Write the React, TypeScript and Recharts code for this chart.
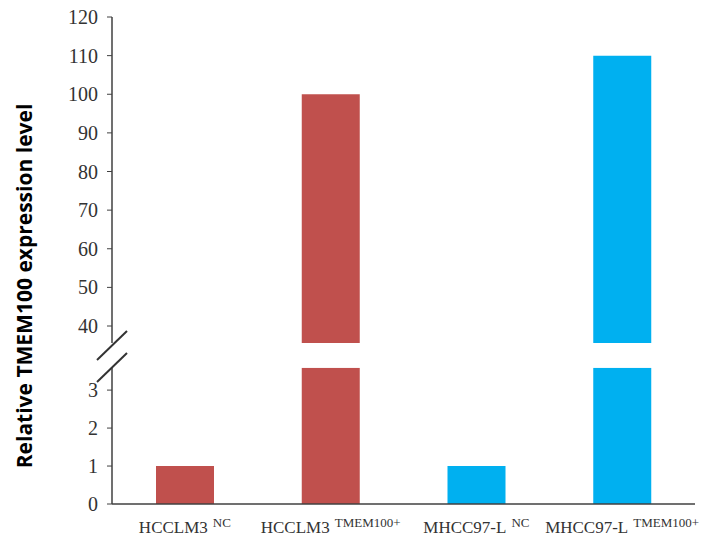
import { Bar, BarChart, Cell, XAxis, YAxis } from "recharts";

const cellLines = ["HCCLM3", "HCCLM3", "MHCC97-L", "MHCC97-L"];
const groupTags = ["NC", "TMEM100+", "NC", "TMEM100+"];
const expression = [1, 100, 1, 110];
const barColors = ["#c0504d", "#c0504d", "#00b0f0", "#00b0f0"];

const upperTicks = [40, 50, 60, 70, 80, 90, 100, 110, 120];
const lowerTicks = [0, 1, 2, 3];
const upperDomain: [number, number] = [35.6, 120];
const lowerDomain: [number, number] = [0, 3.59];
const groupEdges = [1, 2, 3, 4];

const rows = cellLines.map((line, i) => ({
  name: `${line}|${groupTags[i]}`,
  lower: Math.min(expression[i], lowerDomain[1]),
  upper: expression[i] > upperDomain[0] ? expression[i] : null,
}));

const AXIS = "#404040";
const serif = "'Liberation Serif', 'Times New Roman', serif";

function CategoryTick({ x, y, payload }: any) {
  const [line, tag] = String(payload.value).split("|");
  return (
    <text x={x} y={y + 29} textAnchor="middle" fontFamily={serif} fontSize={17} fill="#333">
      {line}
      <tspan dx={5} dy={-6} fontSize={13}>
        {tag}
      </tspan>
    </text>
  );
}

function ValueTick({ x, y, payload }: any) {
  return (
    <text x={x} y={y} dy={7} textAnchor="end" fontFamily={serif} fontSize={20} fill="#333">
      {payload.value}
    </text>
  );
}

export default function App() {
  return (
    <div style={{ position: "absolute", left: 0, top: 0, width: 716, height: 540, background: "#fff" }}>
      <div style={{ position: "absolute", left: 0, top: 0 }}>
        <BarChart width={716} height={345} data={rows} margin={{ top: 17, right: 21, bottom: 2, left: 0 }}>
          <XAxis dataKey="name" hide />
          <YAxis
            width={112}
            domain={upperDomain}
            ticks={upperTicks}
            interval={0}
            allowDataOverflow
            axisLine={{ stroke: AXIS, strokeWidth: 1.5 }}
            tickLine={{ stroke: AXIS }}
            tickSize={5}
            tickMargin={9}
            tick={<ValueTick />}
          />
          <Bar dataKey="upper" barSize={58} isAnimationActive={false}>
            {rows.map((r, i) => (
              <Cell key={r.name} fill={barColors[i]} />
            ))}
          </Bar>
        </BarChart>
      </div>
      <div style={{ position: "absolute", left: 0, top: 350 }}>
        <BarChart width={716} height={190} data={rows} margin={{ top: 17.7, right: 21, bottom: 0, left: 0 }}>
          <XAxis
            xAxisId="edges"
            type="number"
            domain={[0, 4]}
            ticks={groupEdges}
            allowDataOverflow
            axisLine={false}
            tickLine={{ stroke: AXIS, strokeWidth: 1.5 }}
            tickSize={4}
            tick={() => <g />}
            height={0}
          />
          <XAxis
            dataKey="name"
            height={36}
            axisLine={{ stroke: AXIS, strokeWidth: 1.5 }}
            tickLine={false}
            tickSize={0}
            tickMargin={0}
            interval={0}
            tick={<CategoryTick />}
          />
          <YAxis
            width={112}
            domain={lowerDomain}
            ticks={lowerTicks}
            interval={0}
            allowDataOverflow
            axisLine={{ stroke: AXIS, strokeWidth: 1.5 }}
            tickLine={{ stroke: AXIS }}
            tickSize={5}
            tickMargin={9}
            tick={<ValueTick />}
          />
          <Bar dataKey="lower" barSize={58} isAnimationActive={false}>
            {rows.map((r, i) => (
              <Cell key={r.name} fill={barColors[i]} />
            ))}
          </Bar>
        </BarChart>
      </div>
      <svg width={716} height={540} style={{ position: "absolute", left: 0, top: 0, pointerEvents: "none" }}>
        <line x1={97} y1={360} x2={127} y2={331} stroke="#333" strokeWidth={2} />
        <line x1={97} y1={382} x2={127} y2={353} stroke="#333" strokeWidth={2} />
        <text
          x={32}
          y={286}
          transform="rotate(-90 32 286)"
          textAnchor="middle"
          fontFamily="'Open Sans', sans-serif"
          fontWeight={700}
          fontSize={21}
          fill="#000"
        >
          Relative TMEM100 expression level
        </text>
      </svg>
    </div>
  );
}
